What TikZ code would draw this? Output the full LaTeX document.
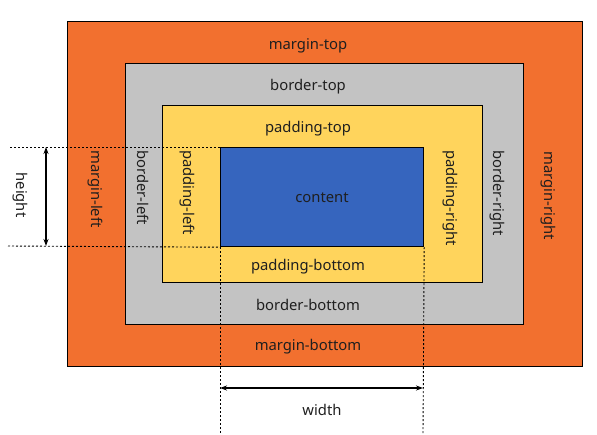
\documentclass[tikz,border=0pt]{standalone}
\usepackage{fontspec}
\setmainfont{Noto Sans}
\usetikzlibrary{arrows.meta}
\definecolor{cmargin}{RGB}{242,112,47}
\definecolor{cborder}{RGB}{195,195,195}
\definecolor{cpadding}{RGB}{255,212,92}
\definecolor{ccontent}{RGB}{54,101,190}
\begin{document}
\begin{tikzpicture}[x=1pt,y=-1pt,
  layer/.style={draw=black,line width=1.2pt,minimum width=#1,inner sep=0pt,anchor=north west},
  lbl/.style={font=\fontsize{14.8}{16}\selectfont,inner sep=0pt,text=black!88},
  vlbl/.style={lbl,rotate=-90,anchor=west},
  guide/.style={line width=0.9pt,dash pattern=on 2pt off 2pt},
  dim/.style={line width=1.4pt,{Stealth[length=7pt,width=5pt]}-{Stealth[length=7pt,width=5pt]}}]
\useasboundingbox (0,0) rectangle (597,434);
\node[layer=515pt,minimum height=345pt,fill=cmargin] (margin) at (67,21) {};
\node[layer=398pt,minimum height=261pt,fill=cborder] (border) at (125,63) {};
\node[layer=320pt,minimum height=177pt,fill=cpadding] (padding) at (162,105) {};
\node[layer=203pt,minimum height=99pt,fill=ccontent] (content) at (220,147) {};
% labels
\node[lbl] (mt) at (308,45.5) {margin-top};
\node[lbl] (bt) at (308,86.5) {border-top};
\node[lbl] (pt) at (308,128.5) {padding-top};
\node[lbl] (ct) at (322,197.5) {content};
\node[lbl] (pb) at (308,266.5) {padding-bottom};
\node[lbl] (bb) at (308,304.5) {border-bottom};
\node[lbl] (mb) at (308,346.5) {margin-bottom};
\node[vlbl] (ml) at (95,150) {margin-left};
\node[vlbl] (bl) at (143,150) {border-left};
\node[vlbl] (pl) at (187,150) {padding-left};
\node[vlbl] (pr) at (450,150) {padding-right};
\node[vlbl] (br) at (497,150) {border-right};
\node[vlbl] (mr) at (548,151) {margin-right};
% guides
\coordinate (gTL) at (10,147);
\coordinate (gBL) at (8,246);
\coordinate (gLB) at (220,434);
\coordinate (gRB) at (423,434);
\draw[guide] (gTL) -- (content.north west);
\draw[guide] (gBL) -- (content.south west);
\draw[guide] (content.south west) -- (gLB);
\draw[guide] (content.south east) -- (gRB);
% dimensions
\coordinate (hT) at (46,147);
\coordinate (hB) at (46,246);
\coordinate (wL) at (220,388);
\coordinate (wR) at (423,388);
\draw[dim] (hT) -- (hB);
\draw[dim] (wL) -- (wR);
\node[lbl,rotate=-90] (hl) at (20,195) {height};
\node[lbl] (wl) at (322,409.5) {width};
\end{tikzpicture}
\end{document}
